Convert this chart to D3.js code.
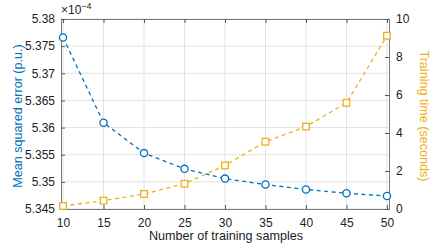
<!DOCTYPE html>
<html>
<head>
<meta charset="utf-8">
<script src="https://cdn.jsdelivr.net/npm/d3@7"></script>
<style>
  body { margin: 0; background: #fff; }
  text { font-family: "Liberation Sans", Arial, sans-serif; }
</style>
</head>
<body>
<div id="chart"></div>
<script>
// data
var samples = [10, 15, 20, 25, 30, 35, 40, 45, 50];
var mse = [5.3766, 5.3609, 5.3553, 5.3524, 5.3506, 5.3495, 5.3486, 5.3479, 5.3474]; // x1e-4
var trainTime = [0.16, 0.44, 0.79, 1.33, 2.29, 3.54, 4.34, 5.59, 9.12];
var xTicks = [10, 15, 20, 25, 30, 35, 40, 45, 50];
var leftTicks = [5.345, 5.35, 5.355, 5.36, 5.365, 5.37, 5.375, 5.38];
var rightTicks = [0, 2, 4, 6, 8, 10];

var width = 436, height = 245;
var plot = {left: 61, right: 389, top: 19, bottom: 209};
var blue = '#0072BD', orange = '#EDB120';

var svg = d3.select('#chart').append('svg')
  .attr('width', width)
  .attr('height', height);

var x = d3.scaleLinear().domain([9.75, 50.25]).range([plot.left, plot.right]);
var yL = d3.scaleLinear().domain([5.345, 5.38]).range([plot.bottom, plot.top]);
var yR = d3.scaleLinear().domain([0, 10]).range([plot.bottom, plot.top]);

// grid
svg.append('g').selectAll('line')
  .data(xTicks).enter().append('line')
  .attr('x1', function (d) { return x(d); })
  .attr('x2', function (d) { return x(d); })
  .attr('y1', plot.top).attr('y2', plot.bottom)
  .attr('stroke', '#e3e3e3').attr('stroke-width', 1);

svg.append('g').selectAll('line')
  .data(leftTicks).enter().append('line')
  .attr('x1', plot.left).attr('x2', plot.right)
  .attr('y1', function (d) { return yL(d); })
  .attr('y2', function (d) { return yL(d); })
  .attr('stroke', '#e3e3e3').attr('stroke-width', 1);

// axes (ticks pointing inward)
var tickLen = 4;
var xAxis = svg.append('g')
  .attr('transform', 'translate(0,' + plot.bottom + ')')
  .call(d3.axisBottom(x).tickValues(xTicks).tickSize(-tickLen).tickPadding(9));
var xTop = svg.append('g')
  .attr('transform', 'translate(0,' + plot.top + ')')
  .call(d3.axisTop(x).tickValues(xTicks).tickSize(-tickLen).tickFormat(''));
var leftAxis = svg.append('g')
  .attr('transform', 'translate(' + plot.left + ',0)')
  .call(d3.axisLeft(yL).tickValues(leftTicks).tickSize(-tickLen).tickPadding(6)
    .tickFormat(function (d) { return d3.format('')(+d.toFixed(3)); }));
var rightAxis = svg.append('g')
  .attr('transform', 'translate(' + plot.right + ',0)')
  .call(d3.axisRight(yR).tickValues(rightTicks).tickSize(-tickLen).tickPadding(7));

[xAxis, xTop, leftAxis, rightAxis].forEach(function (g) {
  g.select('.domain').attr('stroke', '#7a7a7a').attr('stroke-width', 1);
  g.selectAll('.tick line').attr('stroke', '#555');
  g.selectAll('.tick text')
    .attr('font-size', '12px')
    .attr('fill', '#222')
    .attr('font-family', '"Liberation Sans", Arial, sans-serif');
});

// exponent label
var expo = svg.append('text')
  .attr('x', plot.left).attr('y', plot.top - 5)
  .attr('font-size', '12px').attr('fill', '#222');
expo.append('tspan').text('\u00d710');
expo.append('tspan').attr('font-size', '9px').attr('dy', -5).text('\u22124');

// series
var dash = '4,3.5';
var blueLine = d3.line()
  .x(function (d, i) { return x(samples[i]); })
  .y(function (d) { return yL(d); });
var orangeLine = d3.line()
  .x(function (d, i) { return x(samples[i]); })
  .y(function (d) { return yR(d); });

svg.append('path')
  .datum(trainTime)
  .attr('d', orangeLine)
  .attr('fill', 'none').attr('stroke', orange)
  .attr('stroke-width', 1.3).attr('stroke-dasharray', dash);

svg.append('path')
  .datum(mse)
  .attr('d', blueLine)
  .attr('fill', 'none').attr('stroke', blue)
  .attr('stroke-width', 1.3).attr('stroke-dasharray', dash);

svg.selectAll('rect.mark')
  .data(trainTime).enter().append('rect')
  .attr('class', 'mark')
  .attr('x', function (d, i) { return x(samples[i]) - 3.3; })
  .attr('y', function (d) { return yR(d) - 3.3; })
  .attr('width', 6.6).attr('height', 6.6)
  .attr('fill', '#fff').attr('stroke', orange).attr('stroke-width', 1.3);

svg.selectAll('circle.mark')
  .data(mse).enter().append('circle')
  .attr('class', 'mark')
  .attr('cx', function (d, i) { return x(samples[i]); })
  .attr('cy', function (d) { return yL(d); })
  .attr('r', 3.6)
  .attr('fill', '#fff').attr('stroke', blue).attr('stroke-width', 1.3);

// axis titles
svg.append('text')
  .attr('x', (plot.left + plot.right) / 2 + 1).attr('y', 240)
  .attr('text-anchor', 'middle')
  .attr('font-size', '12.6px').attr('fill', '#222')
  .text('Number of training samples');

svg.append('text')
  .attr('transform', 'translate(22,' + ((plot.top + plot.bottom) / 2 + 2) + ') rotate(-90)')
  .attr('text-anchor', 'middle')
  .attr('font-size', '12.6px').attr('fill', blue)
  .text('Mean squared error (p.u.)');

svg.append('text')
  .attr('transform', 'translate(420,' + ((plot.top + plot.bottom) / 2 + 2) + ') rotate(90)')
  .attr('text-anchor', 'middle')
  .attr('font-size', '12.6px').attr('fill', orange)
  .text('Training time (seconds)');
</script>
</body>
</html>
